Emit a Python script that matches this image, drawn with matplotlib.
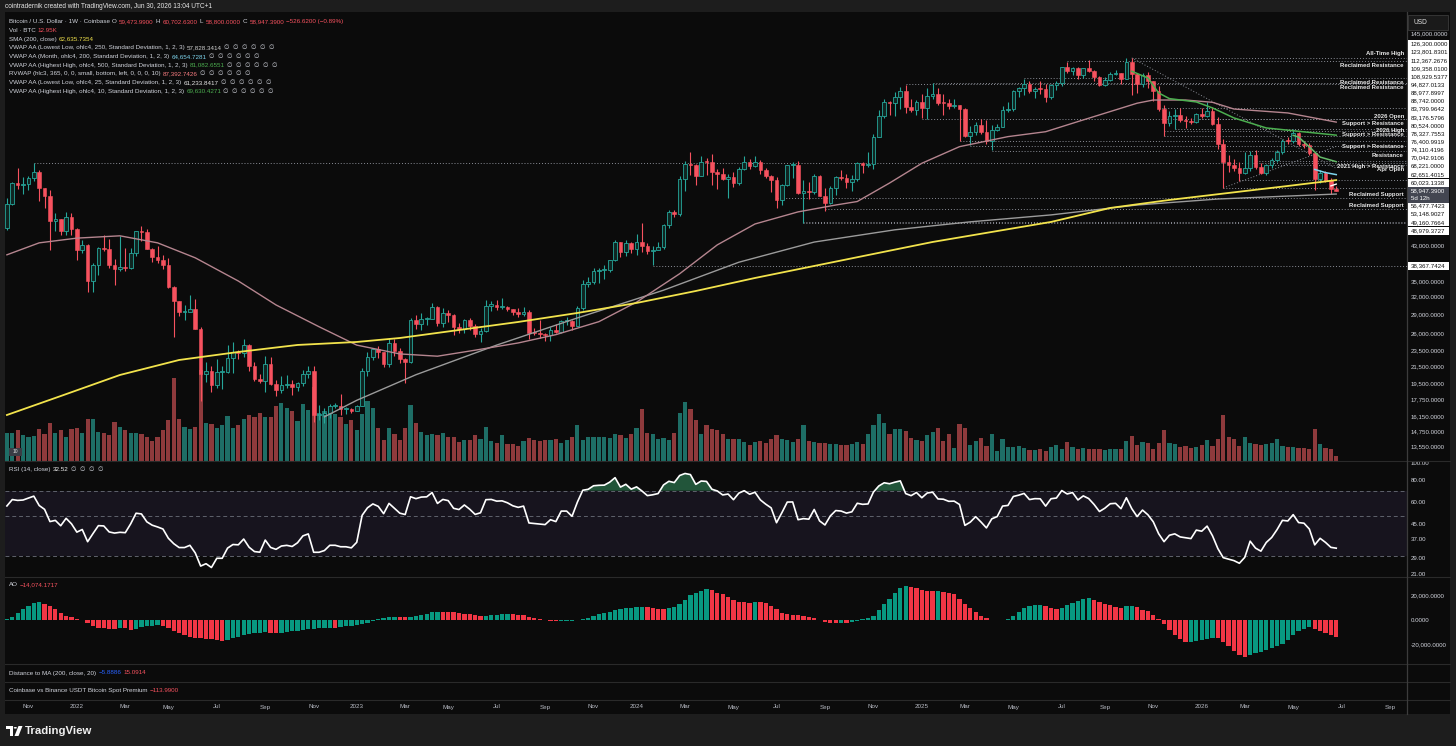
import datetime as dt
import numpy as np
import matplotlib
matplotlib.use("Agg")
import matplotlib.pyplot as plt
from matplotlib.patches import Rectangle, Polygon, Circle

plt.rcParams['font.family'] = ['Liberation Sans', 'DejaVu Sans']

# ---------------- data ----------------
# weekly BTC/USD (Coinbase) bars, prices in thousands of USD
first_week = dt.date(2021, 10, 4)
first_open = 47.7

bar_high = [
    56.6, 62.0, 67.0, 63.7, 64.3, 69.0, 66.3, 59.8, 59.1, 51.9,
    50.2, 52.1, 52.0, 47.6, 44.5, 43.5, 38.9, 42.7, 45.8, 44.8,
    39.8, 45.4, 42.5, 42.4, 46.9, 48.2, 47.2, 42.4, 42.9, 40.8,
    40.0, 34.2, 31.3, 30.6, 32.4, 31.7, 26.9, 22.0, 21.5, 22.4,
    21.6, 24.3, 24.7, 23.6, 25.2, 24.4, 22.0, 20.6, 22.8, 22.7,
    19.9, 20.4, 20.5, 19.9, 19.7, 21.1, 21.5, 21.5, 17.2, 16.9,
    17.3, 17.4, 18.4, 17.0, 16.9, 17.2, 21.3, 23.3, 23.9, 24.2,
    23.4, 25.3, 25.2, 23.9, 22.6, 28.4, 28.8, 29.2, 28.6, 31.0,
    30.4, 30.0, 29.8, 29.0, 27.6, 28.3, 28.4, 27.4, 26.8, 31.4,
    31.3, 31.4, 31.8, 30.4, 29.9, 30.0, 30.2, 29.7, 26.8, 28.1,
    26.1, 27.0, 27.5, 28.0, 28.6, 28.0, 30.4, 35.3, 35.9, 37.9,
    37.9, 38.4, 39.7, 44.5, 44.0, 44.4, 43.8, 45.9, 49.0, 43.6,
    42.8, 43.9, 48.6, 52.8, 52.9, 64.0, 70.0, 73.8, 68.9, 71.8,
    71.3, 72.8, 66.9, 67.2, 64.7, 65.5, 67.7, 71.9, 70.6, 72.0,
    70.2, 67.0, 64.5, 63.8, 61.4, 68.4, 69.4, 70.1, 62.7, 61.8,
    65.0, 64.5, 59.8, 60.6, 64.1, 66.5, 65.0, 64.5, 69.4, 69.5,
    73.6, 81.5, 93.5, 99.6, 98.8, 103.9, 106.6, 108.3, 99.9, 99.0,
    102.7, 106.4, 109.4, 106.5, 102.5, 99.5, 99.5, 96.5, 95.0, 85.3,
    87.5, 88.8, 88.5, 86.1, 86.5, 95.8, 97.9, 105.0, 107.1, 112.0,
    110.7, 106.8, 110.5, 108.9, 108.5, 110.6, 119.9, 123.2, 120.2, 119.8,
    119.4, 124.5, 117.6, 113.7, 113.4, 116.7, 117.9, 115.8, 125.9, 126.3,
    115.9, 116.0, 116.4, 110.8, 107.5, 96.6, 93.1, 94.2, 94.5, 90.3,
    89.5, 91.9, 94.6, 97.9, 95.5, 90.0, 79.5, 72.5, 70.8, 69.5,
    73.5, 74.0, 74.5, 69.0, 68.9, 71.0, 74.6, 79.5, 80.0, 83.8,
    82.6, 78.4, 77.5, 73.8, 66.3, 66.0, 63.5, 60.70263]

bar_low = [
    47.1, 54.4, 59.6, 57.8, 59.3, 62.3, 55.6, 53.3, 42.0, 46.7,
    45.6, 45.6, 45.7, 39.7, 41.3, 33.0, 32.9, 36.3, 41.7, 37.9,
    34.3, 37.2, 37.2, 37.6, 40.5, 44.2, 42.1, 39.2, 38.9, 37.7,
    33.7, 25.4, 28.7, 28.0, 29.3, 26.6, 17.6, 19.7, 18.6, 19.0,
    18.9, 20.7, 20.7, 22.4, 22.7, 21.0, 19.8, 19.6, 18.6, 19.3,
    18.1, 18.5, 19.0, 18.2, 18.7, 19.2, 20.1, 15.6, 15.8, 15.5,
    16.0, 16.9, 16.3, 16.4, 16.5, 16.6, 17.1, 20.4, 22.3, 22.6,
    21.4, 21.4, 22.8, 21.9, 19.6, 21.9, 26.6, 26.5, 27.2, 28.2,
    27.1, 27.0, 27.7, 25.8, 26.1, 26.1, 26.5, 25.4, 24.8, 26.2,
    29.5, 29.8, 29.9, 29.6, 28.9, 28.6, 28.7, 25.2, 25.8, 25.3,
    24.9, 24.9, 26.0, 26.0, 27.2, 26.5, 27.1, 29.8, 33.9, 34.5,
    34.8, 35.6, 36.9, 39.3, 40.2, 40.5, 41.3, 40.8, 41.5, 41.1,
    38.5, 41.9, 42.3, 47.7, 50.6, 50.9, 59.0, 64.5, 60.8, 64.0,
    64.5, 61.0, 59.6, 62.8, 56.5, 60.2, 60.8, 66.3, 66.7, 67.5,
    65.0, 63.4, 58.4, 53.5, 54.3, 60.6, 63.5, 57.8, 49.1, 56.1,
    57.8, 57.2, 52.6, 54.6, 57.5, 62.7, 59.8, 58.9, 62.5, 65.1,
    67.5, 66.8, 80.2, 89.4, 90.8, 90.5, 94.3, 92.2, 92.4, 91.2,
    89.3, 89.2, 99.5, 96.3, 91.2, 94.1, 94.8, 78.2, 80.0, 76.6,
    81.2, 81.6, 77.1, 74.4, 83.0, 85.1, 92.8, 93.3, 100.7, 102.0,
    103.1, 100.4, 102.7, 98.2, 99.6, 105.1, 107.5, 115.7, 114.7, 112.0,
    112.7, 116.8, 110.7, 107.3, 107.3, 110.6, 114.8, 108.6, 111.9, 102.0,
    103.5, 106.7, 106.3, 98.9, 93.0, 80.6, 85.3, 83.8, 87.5, 84.5,
    86.5, 86.8, 89.6, 90.0, 86.0, 75.0, 59.9, 65.8, 66.0, 62.4,
    65.0, 66.0, 66.8, 64.8, 64.5, 67.2, 69.5, 72.8, 77.2, 77.5,
    76.3, 75.4, 72.5, 59.2, 61.7, 61.8, 58.0, 58.8]

bar_close = [
    54.7, 61.5, 60.9, 61.3, 63.3, 65.5, 59.7, 57.3, 49.4, 50.1,
    46.7, 50.8, 47.3, 41.9, 43.1, 35.1, 38.5, 42.4, 42.2, 38.4,
    37.7, 38.0, 37.8, 41.3, 46.8, 46.4, 42.2, 40.4, 39.5, 38.5,
    34.0, 31.3, 29.4, 29.4, 29.9, 26.6, 20.6, 21.0, 19.3, 20.8,
    20.8, 22.6, 23.3, 23.2, 24.3, 21.5, 20.0, 19.8, 21.8, 19.4,
    18.8, 19.3, 19.4, 19.1, 19.6, 20.6, 20.9, 16.3, 16.3, 16.5,
    17.1, 17.1, 16.8, 16.8, 16.6, 17.1, 20.9, 22.7, 23.8, 23.3,
    21.8, 24.6, 23.5, 22.4, 22.1, 28.0, 27.5, 28.2, 28.3, 30.3,
    27.6, 29.2, 28.9, 27.0, 26.7, 28.1, 27.1, 25.9, 26.3, 30.5,
    30.6, 30.2, 30.3, 29.9, 29.3, 29.0, 29.3, 26.1, 26.0, 25.9,
    25.8, 26.5, 26.2, 27.9, 27.9, 27.1, 30.0, 34.5, 35.0, 37.1,
    37.4, 37.5, 39.5, 43.8, 41.4, 43.6, 42.3, 43.9, 42.8, 41.6,
    42.0, 42.6, 48.3, 52.1, 51.7, 63.1, 68.9, 68.4, 64.0, 69.6,
    69.4, 65.7, 64.9, 63.1, 63.9, 61.5, 66.9, 69.4, 67.8, 69.6,
    66.2, 64.3, 62.7, 55.9, 60.8, 68.2, 68.3, 58.1, 58.7, 58.4,
    64.2, 57.3, 54.8, 59.9, 63.6, 63.3, 62.1, 62.9, 69.0, 68.4,
    68.7, 80.4, 90.6, 98.0, 97.3, 101.1, 104.4, 95.2, 93.7, 98.3,
    94.5, 101.3, 102.6, 97.7, 97.5, 96.1, 96.3, 94.3, 80.7, 82.6,
    86.1, 82.4, 78.4, 83.7, 85.2, 93.7, 94.3, 104.6, 106.5, 109.0,
    104.6, 105.7, 105.6, 100.9, 108.4, 109.2, 119.8, 117.3, 119.4, 114.2,
    119.3, 117.4, 113.3, 108.3, 111.1, 115.3, 115.7, 112.2, 123.5, 115.1,
    108.6, 114.5, 110.6, 104.7, 94.2, 86.8, 90.4, 91.2, 88.6, 87.9,
    87.3, 91.4, 90.6, 93.2, 86.5, 76.9, 69.6, 68.4, 67.3, 65.4,
    67.0, 72.4, 67.5, 65.4, 68.4, 70.3, 73.7, 78.6, 78.2, 82.0,
    77.0, 76.6, 73.1, 62.9, 65.4, 62.7, 59.47399, 58.94739]

# weekly volume, thousands of BTC
volume_k = [
    72, 72, 78, 66, 62, 63, 81, 68, 98, 72,
    78, 62, 82, 85, 72, 109, 109, 74, 72, 66,
    101, 88, 78, 71, 71, 70, 61, 50, 62, 78,
    104, 215, 108, 88, 82, 88, 235, 98, 94, 85,
    91, 115, 85, 91, 108, 117, 114, 124, 113, 113,
    141, 150, 137, 128, 102, 146, 130, 190, 124, 128,
    133, 120, 113, 95, 104, 78, 120, 154, 137, 85,
    52, 85, 68, 52, 85, 144, 98, 75, 66, 68,
    65, 72, 61, 62, 49, 53, 53, 65, 56, 87,
    50, 46, 65, 44, 43, 37, 50, 59, 53, 50,
    52, 52, 57, 46, 53, 62, 91, 52, 62, 62,
    62, 62, 59, 69, 65, 59, 69, 85, 133, 72,
    70, 57, 59, 53, 72, 124, 153, 133, 105, 68,
    92, 83, 79, 69, 55, 57, 57, 49, 40, 49,
    50, 46, 55, 66, 56, 52, 49, 56, 91, 50,
    49, 46, 46, 42, 42, 39, 40, 42, 49, 42,
    69, 91, 120, 98, 68, 82, 81, 76, 59, 52,
    50, 66, 75, 85, 50, 69, 33, 95, 85, 39,
    50, 59, 37, 68, 24, 57, 36, 35, 37, 33,
    26, 27, 29, 24, 36, 40, 31, 49, 35, 29,
    33, 31, 29, 31, 27, 29, 29, 29, 50, 63,
    39, 49, 46, 30, 46, 78, 46, 43, 35, 37,
    33, 36, 40, 52, 37, 57, 117, 62, 56, 37,
    61, 46, 42, 40, 43, 46, 57, 37, 35, 35,
    33, 33, 31, 82, 42, 33, 31, 12.95]

# weeks before the visible range (15 Feb - 27 Sep 2021), only used to seed RSI / AO
warm_high = [58.4, 57.5, 52.6, 61.8, 60.6, 58.4, 60.2, 61.3, 64.9, 57.5, 58.5,
             59.6, 59.6, 46.6, 40.8, 39.5, 41.3, 41.3, 36.0, 36.6, 35.1, 34.6,
             35.4, 42.6, 44.7, 48.1, 49.4, 50.5, 51.9, 52.9, 48.8, 47.4, 49.2]
warm_low = [47.0, 43.0, 45.0, 49.3, 53.3, 50.4, 55.4, 55.5, 51.0, 47.0, 48.8,
            53.0, 43.8, 30.0, 33.4, 34.8, 31.0, 33.3, 28.8, 32.7, 32.1, 31.0,
            29.3, 35.2, 37.5, 43.0, 43.9, 46.3, 46.5, 42.8, 43.4, 39.6, 40.8]
warm_close = [57.5, 45.1, 51.0, 59.0, 57.4, 55.8, 58.2, 60.0, 56.2, 49.1, 57.8,
              58.2, 46.4, 34.7, 35.7, 35.8, 40.5, 35.5, 34.7, 34.0, 34.3, 31.8,
              35.4, 39.9, 43.8, 47.0, 49.3, 48.8, 51.8, 46.0, 47.3, 43.2, 47.7]

# indicator lines: (date, thousands of USD)
sma200_pts = [
    ("2021-10-04", 16.27), ("2021-12-13", 18.14), ("2022-02-28", 20.47), ("2022-05-16", 22.31),
    ("2022-08-01", 23.36), ("2022-10-17", 24.32), ("2023-01-02", 24.74), ("2023-02-27", 25.31),
    ("2023-05-15", 26.50), ("2023-07-31", 27.75), ("2023-10-16", 29.22), ("2024-01-01", 30.95),
    ("2024-03-18", 33.15), ("2024-06-03", 35.72), ("2024-08-19", 38.27), ("2024-11-04", 41.00),
    ("2025-01-20", 43.92), ("2025-04-07", 46.52), ("2025-06-23", 49.27), ("2025-09-08", 53.39),
    ("2025-11-24", 55.90), ("2026-02-09", 58.19), ("2026-04-27", 60.57), ("2026-06-29", 62.64)]
rvwap_pts = [
    ("2021-10-04", 40.8), ("2021-11-15", 43.7), ("2022-01-03", 44.9), ("2022-02-28", 45.5),
    ("2022-04-18", 43.7), ("2022-06-06", 40.1), ("2022-08-01", 35.1), ("2022-09-19", 30.6),
    ("2022-11-14", 27.0), ("2023-01-02", 24.3), ("2023-02-27", 23.1), ("2023-04-17", 22.8),
    ("2023-06-05", 23.6), ("2023-07-31", 24.6), ("2023-09-18", 25.8), ("2023-11-13", 27.8),
    ("2024-01-01", 31.1), ("2024-02-26", 36.6), ("2024-04-15", 43.2), ("2024-06-03", 48.7),
    ("2024-07-29", 52.2), ("2024-09-16", 54.3), ("2024-10-14", 55.4), ("2024-11-25", 61.6),
    ("2025-01-06", 69.0), ("2025-02-24", 75.9), ("2025-04-28", 80.4), ("2025-06-16", 82.7),
    ("2025-08-04", 88.5), ("2025-10-13", 97.4), ("2025-11-03", 99.2), ("2025-12-15", 99.2),
    ("2026-01-19", 97.9), ("2026-02-16", 94.2), ("2026-04-27", 92.1), ("2026-06-29", 87.39)]
vwap_ll250_pts = [
    ("2022-11-21", 16.1), ("2023-01-02", 17.7), ("2023-03-20", 20.5), ("2023-07-03", 24.3),
    ("2023-10-16", 28.4), ("2024-02-05", 33.3), ("2024-05-13", 39.1), ("2024-08-19", 43.9),
    ("2024-12-02", 47.1), ("2025-03-10", 49.3), ("2025-06-23", 51.3), ("2025-10-13", 54.3),
    ("2026-01-26", 56.2), ("2026-06-29", 57.83)]
vwap_hh500_pts = [
    ("2025-10-06", 117.0), ("2025-10-27", 112.6), ("2025-11-10", 103.3), ("2025-11-24", 100.0),
    ("2025-12-29", 98.1), ("2026-01-19", 94.8), ("2026-02-16", 89.5), ("2026-03-30", 84.5),
    ("2026-06-29", 81.08)]
vwap_hh10_pts = [("2026-05-04", 81.0), ("2026-05-11", 80.2), ("2026-05-25", 75.8),
                 ("2026-06-08", 71.5), ("2026-06-29", 69.63)]
vwap_month_pts = [("2026-06-01", 66.6), ("2026-06-15", 65.4), ("2026-06-29", 64.65)]
vwap_ll25_pts = [("2026-06-22", 60.6), ("2026-06-29", 61.23)]

# horizontal levels: (USD, first date)
levels = [
    (126300.0000, "2025-10-06"), (123801.8301, "2025-07-14"), (112367.2676, "2025-05-19"),
    (109358.0100, "2025-01-20"), (108929.5377, "2024-12-16"), (94827.0133, "2025-11-10"),
    (88977.8997, "2025-01-06"), (88742.0000, "2025-12-29"), (83799.9642, "2025-12-01"),
    (83176.5796, "2025-11-17"), (80524.0000, "2025-11-17"), (78327.7553, "2025-02-24"),
    (76400.9919, "2025-03-10"), (74110.4196, "2025-04-07"), (70042.9106, "2026-03-16"),
    (68221.0000, "2026-03-30"), (62651.4015, "2026-02-23"), (60023.1338, "2026-02-02"),
    (56477.7423, "2024-07-01"), (53148.9027, "2024-09-02"), (49160.7664, "2024-08-05"),
    (48979.3727, "2024-08-05"), (38367.7424, "2024-01-22")]
high_2021 = (69000.0, "2021-11-08")
level_notes = [
    ("All-Time High", 129.2), ("Reclaimed Resistance", 120.6), ("Reclaimed Resistance", 109.4),
    ("Reclaimed Resistance", 106.3), ("2026 Open", 90.5), ("Support > Resistance", 86.5),
    ("2026 High", 83.1), ("Support > Resistance", 81.2), ("Support > Resistance", 75.9),
    ("Resistance", 72.0), ("2021 High > Resistance", 67.9), ("Apr Open", 66.4),
    ("Reclaimed Support", 57.8), ("Reclaimed Support", 54.2)]
trend_lines = [(("2025-10-06", 126.3), ("2026-06-29", 67.0)),
               (("2026-02-02", 59.9), ("2026-06-29", 76.0))]

price_ticks = [145000, 43000, 35000, 32000, 29000, 26000, 23500, 21500,
               19500, 17750, 16150, 14750, 13550]
rsi_ticks = [100, 80, 60, 45, 37, 29]
ao_ticks = [20000, 0, -20000]

# ---------------- helpers ----------------
W, H = 1456, 746
BG = '#0b0b0b'
OUTER = '#1d1d1d'
TXT = '#d1d4dc'
UP, DN = '#26a69a', '#f7525f'
X_LEFT = (5 - 6.9) / 5.382
X_RIGHT = (1407 - 6.9) / 5.382


def widx(d):
    return (dt.date.fromisoformat(d) - first_week).days / 7.0


def pts(lst):
    return [widx(d) for d, _ in lst], [v * 1000 for _, v in lst]


def fx(px):
    return px / W


def fy(py):
    return 1 - py / H


fig = plt.figure(figsize=(W / 100, H / 100), dpi=100)
fig.patch.set_facecolor(OUTER)
fig.add_artist(Rectangle((fx(5), fy(714)), 1445 / W, 702 / H, transform=fig.transFigure,
                         facecolor=BG, edgecolor='none', zorder=0))


def make_ax(y0, y1, z=2):
    a = fig.add_axes([fx(5), fy(y1), 1402 / W, (y1 - y0) / H], zorder=z)
    a.set_facecolor('none')
    for s in a.spines.values():
        s.set_visible(False)
    a.set_xlim(X_LEFT, X_RIGHT)
    return a


def hide(a):
    a.xaxis.set_visible(False)
    a.yaxis.set_visible(False)


# ---------------- price pane ----------------
n = len(bar_close)
idx = np.arange(n)
c = np.array(bar_close) * 1000
o = np.r_[first_open, bar_close[:-1]] * 1000
hi = np.maximum(np.array(bar_high) * 1000, np.maximum(o, c))
lo = np.minimum(np.array(bar_low) * 1000, np.minimum(o, c))
up = c >= o

vax = make_ax(12, 460.5, z=1)
vax.bar(idx, volume_k, width=0.78, color=np.where(up, '#1e6e66', '#8e3a3c'), linewidth=0)
vax.set_ylim(0, 1165)
hide(vax)

ax = make_ax(12, 460.5, z=2)
ax.set_yscale('log')
ax.set_ylim(12530, 164400)
ax.vlines(idx, lo, hi, colors=np.where(up, UP, DN), lw=0.8, zorder=3)
body_lo = np.minimum(o, c)
body_hi = np.maximum(np.maximum(o, c), body_lo * 1.006)
ax.bar(idx[up], (body_hi - body_lo)[up], bottom=body_lo[up], width=0.68,
       color='#0f2622', edgecolor=UP, linewidth=0.6, zorder=4)
ax.bar(idx[~up], (body_hi - body_lo)[~up], bottom=body_lo[~up], width=0.68,
       color=DN, edgecolor=DN, linewidth=0.4, zorder=4)
hide(ax)

dot = dict(color='#8a8d96', lw=0.7, linestyle=(0, (1, 2)), zorder=2)
for v, d in levels:
    ax.hlines(v, widx(d), X_RIGHT, **dot)
ax.hlines(high_2021[0], widx(high_2021[1]), X_RIGHT, **dot)
for (d0, p0), (d1, p1) in trend_lines:
    ax.plot([widx(d0), widx(d1)], [p0 * 1000, p1 * 1000], **dot)

ax.plot(*pts(vwap_ll250_pts), color='#9b9b9b', lw=1.0, zorder=5)
ax.plot(*pts(rvwap_pts), color='#b5858f', lw=1.0, zorder=5)
ax.plot(*pts(sma200_pts), color='#f2e34c', lw=1.3, zorder=6)
ax.plot(*pts(vwap_hh500_pts), color='#4caf50', lw=1.1, zorder=5)
ax.plot(*pts(vwap_hh10_pts), color='#66bb6a', lw=1.1, zorder=5)
ax.plot(*pts(vwap_month_pts), color='#7fd6ee', lw=1.1, zorder=5)
ax.plot(*pts(vwap_ll25_pts), color='#ffffff', lw=1.0, zorder=5)

for s, p in level_notes:
    ax.text((1404 - 5) / 1402, p * 1000, s, transform=ax.get_yaxis_transform(),
            ha='right', va='center', fontsize=4.3, color='#e6e6e6', fontweight='bold', zorder=7)

# ---------------- RSI ----------------
allc = np.r_[warm_close, bar_close]
diff = np.diff(allc)
gain, loss = np.clip(diff, 0, None), np.clip(-diff, 0, None)
rsi_full = np.full(len(allc), np.nan)
ag, al = gain[:14].mean(), loss[:14].mean()
rsi_full[14] = 100 - 100 / (1 + ag / al)
for k in range(15, len(allc)):
    ag = (ag * 13 + gain[k - 1]) / 14
    al = (al * 13 + loss[k - 1]) / 14
    rsi_full[k] = 100 - 100 / (1 + ag / al)
rsi = rsi_full[len(warm_close):]

rax = make_ax(461, 576.5)
rax.set_yscale('log')
rax.set_ylim(22.8, 103.2)
rax.axhspan(30, 70, color='#17141e', lw=0, zorder=0)
for lvl in (70, 50, 30):
    rax.axhline(lvl, color='#5f626c', lw=0.7, dashes=(4, 3), zorder=1)
rax.fill_between(idx, 70, rsi, where=rsi > 70, interpolate=True, color='#22553a', lw=0, zorder=1)
rax.plot(idx, rsi, color='white', lw=1.2, zorder=3)
hide(rax)

# ---------------- AO ----------------
allh = np.r_[warm_high, bar_high]
alll = np.r_[warm_low, bar_low]
hl2 = (allh + alll) / 2 * 1000
ao_full = np.array([hl2[k - 4:k + 1].mean() - hl2[k - 33:k + 1].mean() if k >= 33 else np.nan
                    for k in range(len(hl2))])
ao = ao_full[len(warm_close):]
ao_prev = ao_full[len(warm_close) - 1:-1]
ao_up = ~(ao < ao_prev)
aax = make_ax(577, 664)
aax.bar(idx, ao, width=0.8, color=np.where(ao_up, '#089981', '#f23645'), lw=0)
aax.set_ylim(-36120, 35790)
hide(aax)

# ---------------- separators, axes frame ----------------
for yy in (460.5, 576.5, 664, 682, 700):
    fig.add_artist(plt.Line2D([fx(5), fx(1450)], [fy(yy), fy(yy)], color='#2a2a2a', lw=0.8,
                              transform=fig.transFigure, zorder=5))
fig.add_artist(plt.Line2D([fx(1407), fx(1407)], [fy(12), fy(714)], color='#3c3c3c', lw=0.9,
                          transform=fig.transFigure, zorder=5))


def ftext(px, py, s, **kw):
    kw.setdefault('fontsize', 4.5)
    kw.setdefault('color', TXT)
    kw.setdefault('va', 'center')
    return fig.text(fx(px), fy(py), s, **kw)


# price axis tick labels
for v in price_ticks:
    ax.text((1411 - 5) / 1402, v, f"{v:,.4f}", transform=ax.get_yaxis_transform(),
            va='center', ha='left', fontsize=4.4, color=TXT)
fig.add_artist(Rectangle((fx(1408), fy(30)), 40 / W, 15 / H, transform=fig.transFigure,
                         facecolor='#1a1a1a', edgecolor='#3a3a3a', lw=0.6, zorder=6))
ftext(1413, 22.5, "USD", fontsize=4.8, color='#e0e0e0', zorder=7)

box_rows = list(np.arange(18) * 8.15 + 44) + [206, 214.2, 222.4, 230.6, 265.6]
for (v, _), yy in zip(levels, box_rows):
    fig.add_artist(Rectangle((fx(1408), fy(yy + 4.05)), 41 / W, 8.1 / H, transform=fig.transFigure,
                             facecolor='white', edgecolor='none', zorder=6))
    ftext(1411, yy, f"{v:,.4f}", fontsize=4.4, color='#111111', zorder=7)
fig.add_artist(Rectangle((fx(1408), fy(202.5)), 41 / W, 15.5 / H, transform=fig.transFigure,
                         facecolor='#434651', edgecolor='none', zorder=6))
ftext(1411, 191, f"{c[-1]:,.4f}", fontsize=4.4, color='white', zorder=7)
ftext(1411, 198.3, "5d 12h", fontsize=4.4, color='white', zorder=7)

for v in rsi_ticks:
    rax.text((1411 - 5) / 1402, v, f"{v:.2f}", transform=rax.get_yaxis_transform(),
             va='center', ha='left', fontsize=4.4, color=TXT)
ftext(1411, 574.5, "21.00", fontsize=4.4)
for v in ao_ticks:
    aax.text((1411 - 5) / 1402, v, f"{v:,.4f}", transform=aax.get_yaxis_transform(),
             va='center', ha='left', fontsize=4.4, color=TXT)

# time axis
months = []
y_, m_ = 2021, 11
while (y_, m_) <= (2026, 9):
    months.append(dt.date(y_, m_, 1))
    m_ += 2
    if m_ > 12:
        m_ -= 12
        y_ += 1
tax = make_ax(700, 714)
hide(tax)
for d in months:
    i = int(np.ceil((d - first_week).days / 7))
    lab = str(d.year) if d.month == 1 else d.strftime('%b')
    tax.text(i, 0.5, lab, transform=tax.get_xaxis_transform(), ha='center', va='center',
             fontsize=4.5, color='#b8bbc4')

# ---------------- legends / header ----------------
ren = fig.canvas.get_renderer()


def seq(px, py, parts, size=4.5, gap=2.2):
    for s, col in parts:
        t = ftext(px, py, s, fontsize=size, color=col, zorder=8)
        px += t.get_window_extent(renderer=ren).width + gap


ftext(5, 6.5, "cointradernik created with TradingView.com, Jun 30, 2026 13:04 UTC+1",
      fontsize=4.7, color='#e8e8e8')
R = '#f7525f'
seq(9, 21.7, [("Bitcoin / U.S. Dollar \u00b7 1W \u00b7 Coinbase", TXT), ("O", TXT),
              ("59,473.9900", R), ("H", TXT), ("60,702.6300", R), ("L", TXT), ("58,800.0000", R),
              ("C", TXT), ("58,947.3900", R), ("\u2212526.6200 (\u22120.89%)", R)])
seq(9, 30.6, [("Vol \u00b7 BTC", TXT), ("12.95K", R)])
seq(9, 39.2, [("SMA (200, close)", TXT), ("62,635.7354", '#f2e34c')])
nulls = "\u2205  \u2205  \u2205  \u2205  \u2205  \u2205"
vw_rows = [
    ("VWAP AA (Lowest Low, ohlc4, 250, Standard Deviation, 1, 2, 3)", "57,828.3414", '#cfcfcf'),
    ("VWAP AA (Month, ohlc4, 200, Standard Deviation, 1, 2, 3)", "64,654.7281", '#7fd6ee'),
    ("VWAP AA (Highest High, ohlc4, 500, Standard Deviation, 1, 2, 3)", "81,082.6551", '#4caf50'),
    ("RVWAP (hlc3, 365, 0, 0, small, bottom, left, 0, 0, 0, 10)", "87,392.7426", '#f77c80'),
    ("VWAP AA (Lowest Low, ohlc4, 25, Standard Deviation, 1, 2, 3)", "61,233.8417", '#e8e8e8'),
    ("VWAP AA (Highest High, ohlc4, 10, Standard Deviation, 1, 2, 3)", "69,630.4271", '#4caf50')]
for k, (name, val, col) in enumerate(vw_rows):
    seq(9, 47.8 + k * 8.65, [(name, TXT), (val, col), (nulls, TXT)])

seq(9, 469.3, [("RSI (14, close)", TXT), ("32.52", '#f0f0f0'), ("\u2205  \u2205  \u2205  \u2205", TXT)])
seq(9, 584.7, [("AO", TXT), ("\u221214,074.1717", R)])
seq(9, 673, [("Distance to MA (200, close, 20)", TXT), ("\u22125.8886", '#2962ff'), ("15.0914", R)])
seq(9, 690.8, [("Coinbase vs Binance USDT Bitcoin Spot Premium", TXT), ("\u2212113.9900", R)])

# small pane badge
fig.add_artist(Rectangle((fx(9), fy(456)), 13 / W, 8 / H, transform=fig.transFigure,
                         facecolor='#3a3d45', edgecolor='none', zorder=8))
ftext(15.5, 452, "10", fontsize=3.6, color='#e0e0e0', ha='center', zorder=9)

# footer logo
tf = fig.transFigure
fig.add_artist(Polygon([(fx(6), fy(726)), (fx(13), fy(726)), (fx(13), fy(736)), (fx(10), fy(736)),
                        (fx(10), fy(729)), (fx(6), fy(729))], closed=True, facecolor='white',
                       edgecolor='none', transform=tf, zorder=8))
fig.add_artist(Circle((fx(15.3), fy(727.8)), 1.6 / W, facecolor='white', edgecolor='none',
                      transform=tf, zorder=8))
fig.add_artist(Polygon([(fx(18.5), fy(726)), (fx(22.5), fy(726)), (fx(18.5), fy(736)),
                        (fx(14.5), fy(736))], closed=True, facecolor='white', edgecolor='none',
                       transform=tf, zorder=8))
ftext(25, 731, "TradingView", fontsize=8.2, color='#f0f0f0', fontweight='semibold')

fig.savefig("out.png", dpi=100, facecolor=fig.get_facecolor())
print("rsi last", rsi[-1], "ao last", ao[-1])
